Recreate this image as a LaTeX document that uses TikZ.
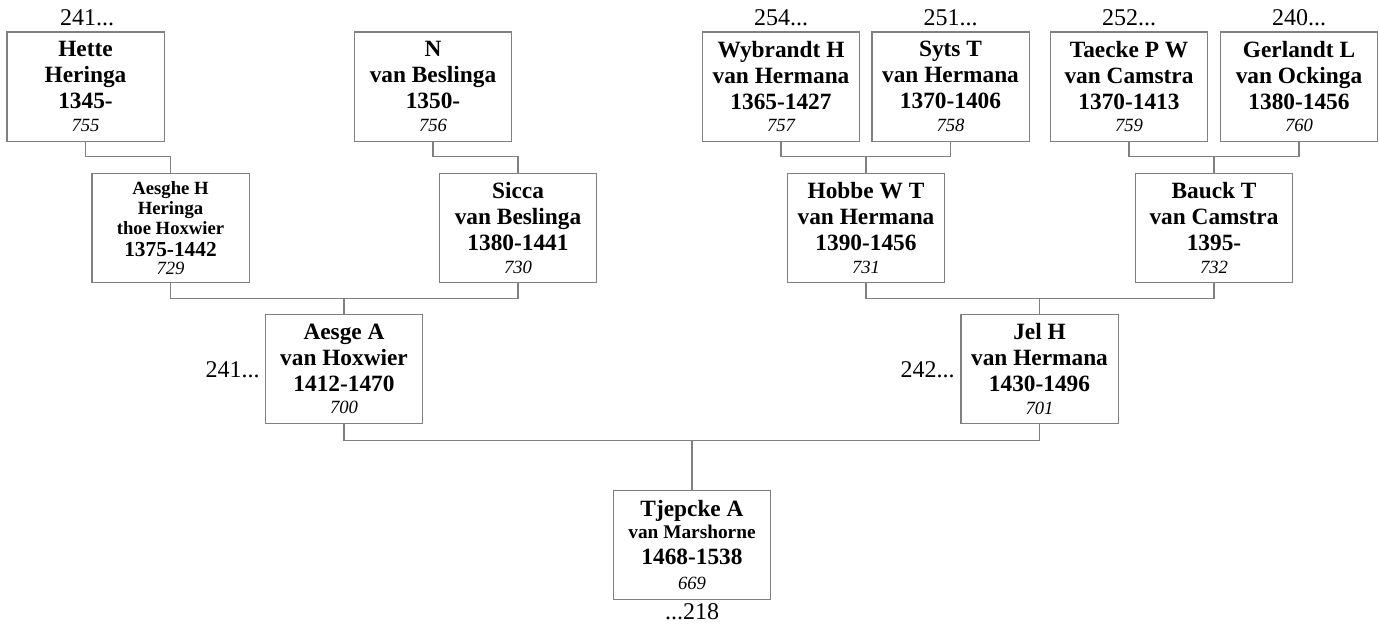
\documentclass[tikz,border=0pt]{standalone}
\usepackage{fontspec}
\setmainfont{Liberation Serif}
\definecolor{linegray}{RGB}{128,128,128}
\newcommand\ftNm{\fontsize{17.5}{19.5}\selectfont\bfseries}
\newcommand\ftSm{\fontsize{14}{15}\selectfont\bfseries}
\newcommand\ftYr{\fontsize{16}{15}\selectfont\bfseries}
\newcommand\ftMid{\fontsize{14.5}{19.5}\selectfont\bfseries}
\newcommand\ftIt{\fontsize{14}{19.5}\selectfont\mdseries\itshape}
\newcommand\ftItS{\fontsize{14}{15}\selectfont\mdseries\itshape}
\newcommand\ftLb{\fontsize{18}{20}\selectfont}
\begin{document}
\begin{tikzpicture}[x=0.75pt,y=-0.75pt,
  box/.style={draw=linegray,line width=1pt,fill=white,inner sep=0pt,
    minimum width=118pt,minimum height=82pt,align=center,
    font=\fontsize{17.5}{19.5}\selectfont},
  sbox/.style={box,font=\fontsize{14}{15}\selectfont},
  conn/.style={draw=linegray,line width=0.8pt},
  lbl/.style={inner sep=0pt,font=\ftLb}]
\useasboundingbox (0,0) rectangle (1380,628);
% generation 4
\node[box] (b755) at (85.5,86.5) {\ftNm Hette\\\ftNm Heringa\\\ftNm 1345-\\[-2.5pt]\ftIt 755};
\node[box] (b756) at (433,86.5) {\ftNm N\\\ftNm van Beslinga\\\ftNm 1350-\\[-2.5pt]\ftIt 756};
\node[box] (b757) at (781,86.5) {\ftNm Wybrandt H\\\ftNm van Hermana\\\ftNm 1365-1427\\[-2.5pt]\ftIt 757};
\node[box] (b758) at (950.5,86.5) {\ftNm Syts T\\\ftNm van Hermana\\\ftNm 1370-1406\\[-2.5pt]\ftIt 758};
\node[box] (b759) at (1129,86.5) {\ftNm Taecke P W\\\ftNm van Camstra\\\ftNm 1370-1413\\[-2.5pt]\ftIt 759};
\node[box] (b760) at (1299,86.5) {\ftNm Gerlandt L\\\ftNm van Ockinga\\\ftNm 1380-1456\\[-2.5pt]\ftIt 760};
% generation 3
\node[sbox] (b729) at (170.5,228) {\ftSm Aesghe H\\\ftSm Heringa\\\ftSm thoe Hoxwier\\[1.5pt]\ftYr 1375-1442\\[-1.5pt]\ftItS 729};
\node[box] (b730) at (518,228) {\ftNm Sicca\\\ftNm van Beslinga\\\ftNm 1380-1441\\[-2.5pt]\ftIt 730};
\node[box] (b731) at (866,228) {\ftNm Hobbe W T\\\ftNm van Hermana\\\ftNm 1390-1456\\[-2.5pt]\ftIt 731};
\node[box] (b732) at (1214,228) {\ftNm Bauck T\\\ftNm van Camstra\\\ftNm 1395-\\[-2.5pt]\ftIt 732};
% generation 2
\node[box] (b700) at (344,369) {\ftNm Aesge A\\\ftNm van Hoxwier\\\ftNm 1412-1470\\[-2.5pt]\ftIt 700};
\node[box] (b701) at (1039.5,369) {\ftNm Jel H\\\ftNm van Hermana\\\ftNm 1430-1496\\[-2.5pt]\ftIt 701};
% generation 1
\node[box] (b669) at (692,545) {\ftNm Tjepcke A\\[-3pt]\ftMid van Marshorne\\\ftNm 1468-1538\\[-0.75pt]\ftIt 669};
% labels
\node[lbl,anchor=base] (l755) at (87,26) {241...};
\node[lbl,anchor=base] (l757) at (781,26) {254...};
\node[lbl,anchor=base] (l758) at (950.5,26) {251...};
\node[lbl,anchor=base] (l759) at (1129,26) {252...};
\node[lbl,anchor=base] (l760) at (1299,26) {240...};
\node[lbl,anchor=base east] (l700) at (260,377) {241...};
\node[lbl,anchor=base east] (l701) at (955,377) {242...};
\node[lbl,anchor=base] (l669) at (692,619) {...218};
% connectors
\draw[conn] (b755.south) -- ++(0,15) -| (b729.north);
\draw[conn] (b756.south) -- ++(0,15) -| (b730.north);
\draw[conn] (b757.south) -- ++(0,15) -| (b758.south);
\draw[conn] (b731.north) -- ++(0,-17);
\draw[conn] (b759.south) -- ++(0,15) -| (b760.south);
\draw[conn] (b732.north) -- ++(0,-17);
\draw[conn] (b729.south) -- ++(0,15) -| (b730.south);
\draw[conn] (b700.north) -- ++(0,-16);
\draw[conn] (b731.south) -- ++(0,15) -| (b732.south);
\draw[conn] (b701.north) -- ++(0,-16);
\draw[conn] (b700.south) -- ++(0,16) -| (b701.south);
\draw[conn] (b669.north) -- ++(0,-50);
\end{tikzpicture}
\end{document}
